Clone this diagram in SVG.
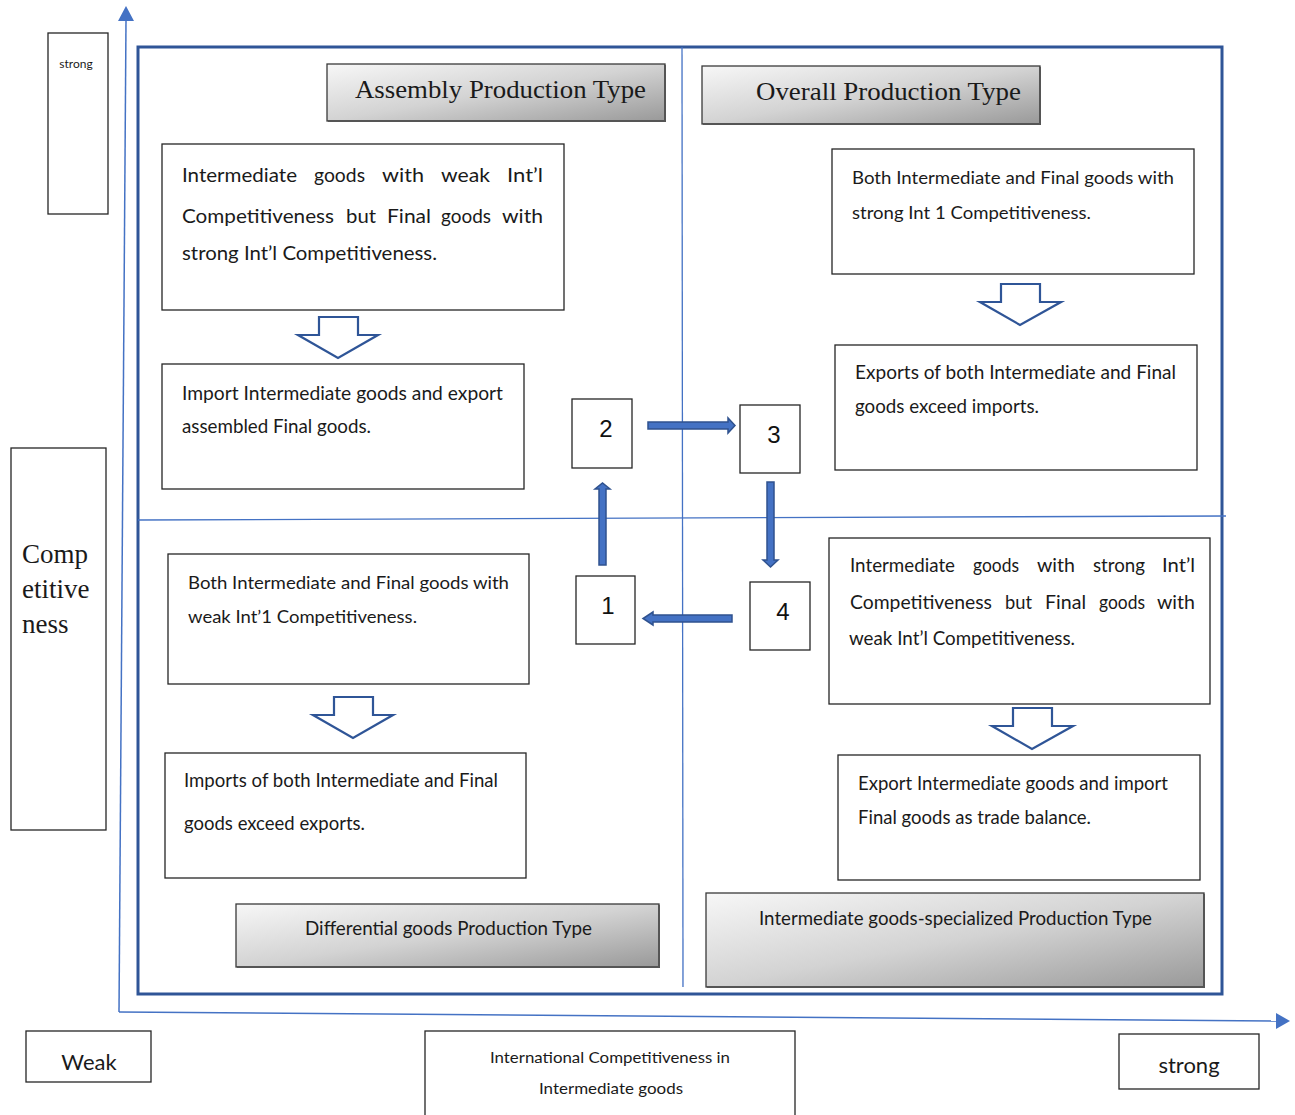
<svg xmlns="http://www.w3.org/2000/svg" width="1295" height="1115" viewBox="0 0 1295 1115">
<style>
.box{fill:#fff;stroke:#262626;stroke-width:1.3}
.hdr{stroke:#3a3a3a;stroke-width:1.3}
.sh{fill:none;stroke:#555;stroke-width:2}
.t{font-family:Lato,"Open Sans","Liberation Sans",sans-serif;fill:#1a1a1a}
.s{font-family:"Liberation Serif","Times New Roman",serif;fill:#1a1a1a}
.num{font-family:"Liberation Sans",Arial,sans-serif;font-size:24px;fill:#111;text-anchor:middle}
.hol{fill:#fff;stroke:#2F5597;stroke-width:2.2;stroke-linejoin:miter}
.blk{fill:#4472C4;stroke:#2F528F;stroke-width:1.5}
.axis{stroke:#4472C4;stroke-width:1.5;fill:none}
.div{stroke:#4472C4;stroke-width:1.3;fill:none}
</style>
<defs>
<linearGradient id="g" x1="0" y1="0" x2="1" y2="1">
<stop offset="0" stop-color="#f7f7f7"/>
<stop offset="0.5" stop-color="#d3d3d3"/>
<stop offset="1" stop-color="#999"/>
</linearGradient>
</defs>
<rect width="1295" height="1115" fill="#fff"/>

<g id="axes">
<path class="axis" d="M119 1012 L126 20"/>
<polygon points="126,6 118,21 134,21" fill="#4472C4"/>
<path class="axis" d="M119 1012 L1277 1021"/>
<polygon points="1290,1021 1276,1013 1276,1029" fill="#4472C4"/>
</g>

<g id="frame">
<rect x="138" y="47" width="1084" height="947" fill="none" stroke="#2F5597" stroke-width="3"/>
<path class="div" d="M682 47 L683 987"/>
<path class="div" d="M138 520 L1226 516"/>
</g>

<g id="strong-y"><rect class="box" x="48" y="33" width="60" height="181"/><text class="t" x="76" y="68" font-size="12" text-anchor="middle">strong</text></g>
<g id="competitiveness"><rect class="box" x="11" y="448" width="95" height="382"/>
<text class="s" x="22" y="563" font-size="27">Comp</text>
<text class="s" x="22" y="598" font-size="27">etitive</text>
<text class="s" x="22" y="633" font-size="27">ness</text></g>

<g id="hdr-assembly"><rect class="hdr" x="327" y="64" width="338" height="57" fill="url(#g)"/><path class="sh" d="M328 121 H665 V65"/>
<text class="s" x="355" y="98" font-size="26" textLength="291" lengthAdjust="spacingAndGlyphs">Assembly Production Type</text></g>
<g id="hdr-overall"><rect class="hdr" x="702" y="66" width="338" height="58" fill="url(#g)"/><path class="sh" d="M703 124 H1040 V67"/>
<text class="s" x="756" y="100" font-size="26" textLength="265" lengthAdjust="spacingAndGlyphs">Overall Production Type</text></g>
<g id="hdr-differential"><rect class="hdr" x="236" y="904" width="423" height="63" fill="url(#g)"/><path class="sh" d="M237 967 H659 V905"/>
<text class="t" x="305" y="935" font-size="19" textLength="287" lengthAdjust="spacingAndGlyphs">Differential goods Production Type</text></g>
<g id="hdr-intermediate"><rect class="hdr" x="706" y="893" width="498" height="94" fill="url(#g)"/><path class="sh" d="M707 987 H1204 V894"/>
<text class="t" x="759" y="925" font-size="19" textLength="393" lengthAdjust="spacingAndGlyphs">Intermediate goods-specialized Production Type</text></g>

<g id="box-q2a"><rect class="box" x="162" y="144" width="402" height="166"/>
<text class="t" x="182" y="182" font-size="20" textLength="115" lengthAdjust="spacingAndGlyphs">Intermediate</text>
<text class="t" x="314" y="182" font-size="20" textLength="51" lengthAdjust="spacingAndGlyphs">goods</text>
<text class="t" x="382" y="182" font-size="20" textLength="42" lengthAdjust="spacingAndGlyphs">with</text>
<text class="t" x="441" y="182" font-size="20" textLength="49" lengthAdjust="spacingAndGlyphs">weak</text>
<text class="t" x="507" y="182" font-size="20" textLength="36" lengthAdjust="spacingAndGlyphs">Int’l</text>
<text class="t" x="182" y="223" font-size="20" textLength="152" lengthAdjust="spacingAndGlyphs">Competitiveness</text>
<text class="t" x="346" y="223" font-size="20" textLength="30" lengthAdjust="spacingAndGlyphs">but</text>
<text class="t" x="387" y="223" font-size="20" textLength="44" lengthAdjust="spacingAndGlyphs">Final</text>
<text class="t" x="441" y="223" font-size="20" textLength="50" lengthAdjust="spacingAndGlyphs">goods</text>
<text class="t" x="502" y="223" font-size="20" textLength="41" lengthAdjust="spacingAndGlyphs">with</text>
<text class="t" x="182" y="260" font-size="20" textLength="255" lengthAdjust="spacingAndGlyphs">strong Int’l Competitiveness.</text></g>
<g id="box-q2b"><rect class="box" x="162" y="364" width="362" height="125"/>
<text class="t" x="182" y="400" font-size="19" textLength="321" lengthAdjust="spacingAndGlyphs">Import Intermediate goods and export</text>
<text class="t" x="182" y="433" font-size="19" textLength="189" lengthAdjust="spacingAndGlyphs">assembled Final goods.</text></g>
<g id="box-q1a"><rect class="box" x="832" y="149" width="362" height="125"/>
<text class="t" x="852" y="184" font-size="18" textLength="322" lengthAdjust="spacingAndGlyphs">Both Intermediate and Final goods with</text>
<text class="t" x="852" y="219" font-size="18" textLength="239" lengthAdjust="spacingAndGlyphs">strong Int 1 Competitiveness.</text></g>
<g id="box-q1b"><rect class="box" x="835" y="345" width="362" height="125"/>
<text class="t" x="855" y="379" font-size="19" textLength="321" lengthAdjust="spacingAndGlyphs">Exports of both Intermediate and Final</text>
<text class="t" x="855" y="413" font-size="19" textLength="184" lengthAdjust="spacingAndGlyphs">goods exceed imports.</text></g>
<g id="box-q3a"><rect class="box" x="168" y="554" width="361" height="130"/>
<text class="t" x="188" y="589" font-size="18" textLength="321" lengthAdjust="spacingAndGlyphs">Both Intermediate and Final goods with</text>
<text class="t" x="188" y="623" font-size="18" textLength="229" lengthAdjust="spacingAndGlyphs">weak Int’1 Competitiveness.</text></g>
<g id="box-q3b"><rect class="box" x="165" y="753" width="361" height="125"/>
<text class="t" x="184" y="787" font-size="19" textLength="314" lengthAdjust="spacingAndGlyphs">Imports of both Intermediate and Final</text>
<text class="t" x="184" y="830" font-size="19" textLength="181" lengthAdjust="spacingAndGlyphs">goods exceed exports.</text></g>
<g id="box-q4a"><rect class="box" x="829" y="538" width="381" height="166"/>
<text class="t" x="850" y="572" font-size="19" textLength="105" lengthAdjust="spacingAndGlyphs">Intermediate</text>
<text class="t" x="973" y="572" font-size="19" textLength="46" lengthAdjust="spacingAndGlyphs">goods</text>
<text class="t" x="1037" y="572" font-size="19" textLength="38" lengthAdjust="spacingAndGlyphs">with</text>
<text class="t" x="1093" y="572" font-size="19" textLength="52" lengthAdjust="spacingAndGlyphs">strong</text>
<text class="t" x="1162" y="572" font-size="19" textLength="33" lengthAdjust="spacingAndGlyphs">Int’l</text>
<text class="t" x="850" y="609" font-size="19" textLength="142" lengthAdjust="spacingAndGlyphs">Competitiveness</text>
<text class="t" x="1005" y="609" font-size="19" textLength="27" lengthAdjust="spacingAndGlyphs">but</text>
<text class="t" x="1045" y="609" font-size="19" textLength="41" lengthAdjust="spacingAndGlyphs">Final</text>
<text class="t" x="1099" y="609" font-size="19" textLength="46" lengthAdjust="spacingAndGlyphs">goods</text>
<text class="t" x="1157" y="609" font-size="19" textLength="38" lengthAdjust="spacingAndGlyphs">with</text>
<text class="t" x="849" y="645" font-size="19" textLength="226" lengthAdjust="spacingAndGlyphs">weak Int’l Competitiveness.</text></g>
<g id="box-q4b"><rect class="box" x="838" y="755" width="362" height="125"/>
<text class="t" x="858" y="790" font-size="19" textLength="310" lengthAdjust="spacingAndGlyphs">Export Intermediate goods and import</text>
<text class="t" x="858" y="824" font-size="19" textLength="233" lengthAdjust="spacingAndGlyphs">Final goods as trade balance.</text></g>

<g id="n2"><rect class="box" x="572" y="399" width="60" height="69"/><text class="num" x="606" y="437">2</text></g>
<g id="n3"><rect class="box" x="740" y="405" width="60" height="68"/><text class="num" x="774" y="443">3</text></g>
<g id="n1"><rect class="box" x="576" y="576" width="59" height="68"/><text class="num" x="608" y="614">1</text></g>
<g id="n4"><rect class="box" x="750" y="582" width="60" height="68"/><text class="num" x="783" y="620">4</text></g>

<g id="connectors">
<polygon class="hol" points="319,317 358,317 358,335 378,335 338,358 298,335 319,335"/>
<polygon class="hol" points="1001,284 1040,284 1040,302 1061,302 1020,325 980,302 1001,302"/>
<polygon class="hol" points="334,697 373,697 373,715 393,715 353,738 313,715 334,715"/>
<polygon class="hol" points="1013,708 1052,708 1052,726 1073,726 1032,749 992,726 1013,726"/>
<polygon class="blk" points="648,422 728,422 728,418 735,425.5 728,433 728,429 648,429"/>
<polygon class="blk" points="767,482 774,482 774,560 778,560 770.5,567 763,560 767,560"/>
<polygon class="blk" points="599,565 606,565 606,489 610,489 602.5,483 595,489 599,489"/>
<polygon class="blk" points="732,615 732,622 653,622 653,625 643,618.5 653,612 653,615"/>
</g>

<g id="weak-x"><rect class="box" x="26" y="1031" width="125" height="51"/><text class="t" x="89" y="1070" font-size="22" text-anchor="middle">Weak</text></g>
<g id="x-label"><rect class="box" x="425" y="1031" width="370" height="90"/>
<text class="t" x="610" y="1063" font-size="16" text-anchor="middle" textLength="240" lengthAdjust="spacingAndGlyphs">International Competitiveness in</text>
<text class="t" x="611" y="1094" font-size="16" text-anchor="middle" textLength="144" lengthAdjust="spacingAndGlyphs">Intermediate goods</text></g>
<g id="strong-x"><rect class="box" x="1119" y="1034" width="140" height="55"/><text class="t" x="1189" y="1073" font-size="22" text-anchor="middle">strong</text></g>
</svg>
